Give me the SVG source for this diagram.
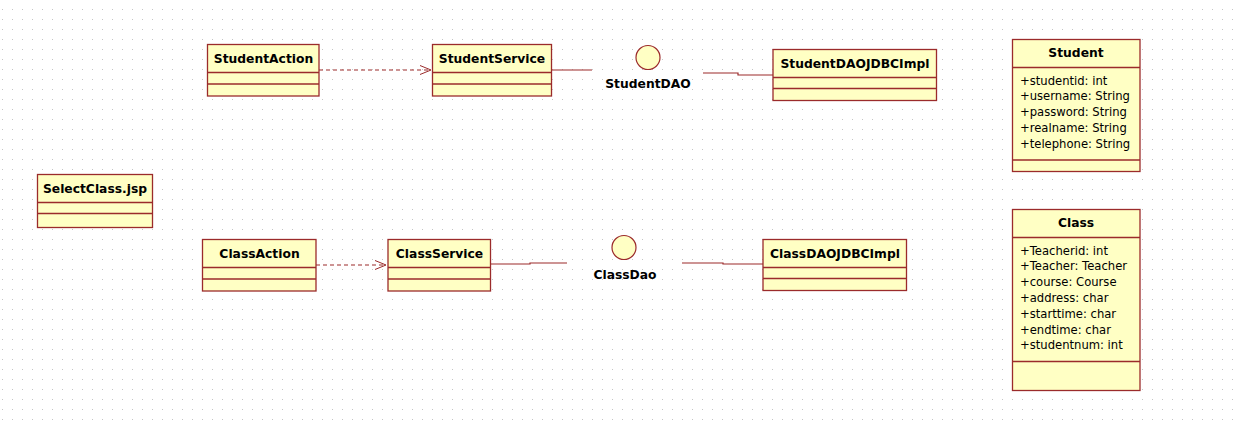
<svg xmlns="http://www.w3.org/2000/svg" width="1239" height="425" viewBox="0 0 1239 425">
<defs>
<pattern id="grid" x="0" y="0" width="10" height="10" patternUnits="userSpaceOnUse">
<rect x="2" y="9" width="1" height="1" fill="#c4c4c4"/>
</pattern>
<marker id="open" markerWidth="14" markerHeight="12" refX="12" refY="6" orient="auto" markerUnits="userSpaceOnUse">
<path d="M1,1.5 L12,6 L1,10.5" fill="none" stroke="#9b2b2b" stroke-width="1"/>
</marker>
</defs>
<style>
.box{fill:#ffffc4;stroke:#9b2b2b;stroke-width:1.3}
.div{stroke:#9b2b2b;stroke-width:1.3}
.name{font-family:"DejaVu Sans",Verdana,sans-serif;font-weight:bold;font-size:12.3px;fill:#000;text-anchor:middle}
.attr{font-family:"DejaVu Sans",Verdana,sans-serif;font-size:11.6px;fill:#000}
.lbl{font-family:"DejaVu Sans",Verdana,sans-serif;font-weight:bold;font-size:12.3px;fill:#000;text-anchor:middle}
.conn{fill:none;stroke:#9b2b2b;stroke-width:1.2}
.dash{stroke-dasharray:4,3}
.iface{fill:#ffffc4;stroke:#9b2b2b;stroke-width:1.2}
</style>
<rect width="1239" height="425" fill="#fff"/>
<rect width="1239" height="425" fill="url(#grid)"/>

<g id="connectors">
<line class="conn dash" x1="319" y1="70" x2="431" y2="70" marker-end="url(#open)"/>
<line class="conn dash" x1="316" y1="265" x2="386" y2="265" marker-end="url(#open)"/>
<polyline class="conn" points="552,70 592,70"/>
<polyline class="conn" points="703,73 738,73 738,75 773,75"/>
<polyline class="conn" points="491,264 530,264 530,263 567,263"/>
<polyline class="conn" points="682,263 723,263 723,264 763,264"/>
</g>

<g id="StudentAction">
<rect class="box" x="207.5" y="44.5" width="111.5" height="51.5"/>
<line class="div" x1="207.5" y1="72.5" x2="319" y2="72.5"/>
<line class="div" x1="207.5" y1="84" x2="319" y2="84"/>
<text class="name" x="263.5" y="63">StudentAction</text>
</g>

<g id="StudentService">
<rect class="box" x="432.5" y="44.5" width="119" height="51.5"/>
<line class="div" x1="432.5" y1="72.5" x2="551.5" y2="72.5"/>
<line class="div" x1="432.5" y1="84" x2="551.5" y2="84"/>
<text class="name" x="492" y="63">StudentService</text>
</g>

<g id="StudentDAO">
<circle class="iface" cx="648" cy="57.5" r="12"/>
<text class="lbl" x="648" y="88">StudentDAO</text>
</g>

<g id="StudentDAOJDBCImpl">
<rect class="box" x="773" y="49.5" width="163.5" height="51"/>
<line class="div" x1="773" y1="77.5" x2="936.5" y2="77.5"/>
<line class="div" x1="773" y1="88.5" x2="936.5" y2="88.5"/>
<text class="name" x="855" y="67.5">StudentDAOJDBCImpl</text>
</g>

<g id="Student">
<rect class="box" x="1012.5" y="39.5" width="127.5" height="132"/>
<line class="div" x1="1012.5" y1="67.5" x2="1140" y2="67.5"/>
<line class="div" x1="1012.5" y1="160" x2="1140" y2="160"/>
<text class="name" x="1076" y="57">Student</text>
<text class="attr" x="1020" y="84.5">+studentid: int</text>
<text class="attr" x="1020" y="100.3">+username: String</text>
<text class="attr" x="1020" y="116.1">+password: String</text>
<text class="attr" x="1020" y="131.9">+realname: String</text>
<text class="attr" x="1020" y="147.7">+telephone: String</text>
</g>

<g id="SelectClassJsp">
<rect class="box" x="37.5" y="174.5" width="115" height="53"/>
<line class="div" x1="37.5" y1="202.5" x2="152.5" y2="202.5"/>
<line class="div" x1="37.5" y1="213.5" x2="152.5" y2="213.5"/>
<text class="name" x="95" y="193">SelectClass.jsp</text>
</g>

<g id="ClassAction">
<rect class="box" x="202.5" y="239.5" width="113.5" height="51.5"/>
<line class="div" x1="202.5" y1="267.5" x2="316" y2="267.5"/>
<line class="div" x1="202.5" y1="279" x2="316" y2="279"/>
<text class="name" x="259.5" y="258">ClassAction</text>
</g>

<g id="ClassService">
<rect class="box" x="388" y="239.5" width="102.5" height="51.5"/>
<line class="div" x1="388" y1="267.5" x2="490.5" y2="267.5"/>
<line class="div" x1="388" y1="279" x2="490.5" y2="279"/>
<text class="name" x="439.5" y="258">ClassService</text>
</g>

<g id="ClassDao">
<circle class="iface" cx="624" cy="247.5" r="12"/>
<text class="lbl" x="625" y="278.5">ClassDao</text>
</g>

<g id="ClassDAOJDBCImpl">
<rect class="box" x="763" y="239.5" width="143.5" height="51"/>
<line class="div" x1="763" y1="267.5" x2="906.5" y2="267.5"/>
<line class="div" x1="763" y1="278.5" x2="906.5" y2="278.5"/>
<text class="name" x="835" y="257.5">ClassDAOJDBCImpl</text>
</g>

<g id="Class">
<rect class="box" x="1012.5" y="209.5" width="127.5" height="181"/>
<line class="div" x1="1012.5" y1="237.5" x2="1140" y2="237.5"/>
<line class="div" x1="1012.5" y1="361.5" x2="1140" y2="361.5"/>
<text class="name" x="1076" y="227">Class</text>
<text class="attr" x="1020" y="254.5">+Teacherid: int</text>
<text class="attr" x="1020" y="270.3">+Teacher: Teacher</text>
<text class="attr" x="1020" y="286.1">+course: Course</text>
<text class="attr" x="1020" y="301.9">+address: char</text>
<text class="attr" x="1020" y="317.7">+starttime: char</text>
<text class="attr" x="1020" y="333.5">+endtime: char</text>
<text class="attr" x="1020" y="349.3">+studentnum: int</text>
</g>
</svg>
